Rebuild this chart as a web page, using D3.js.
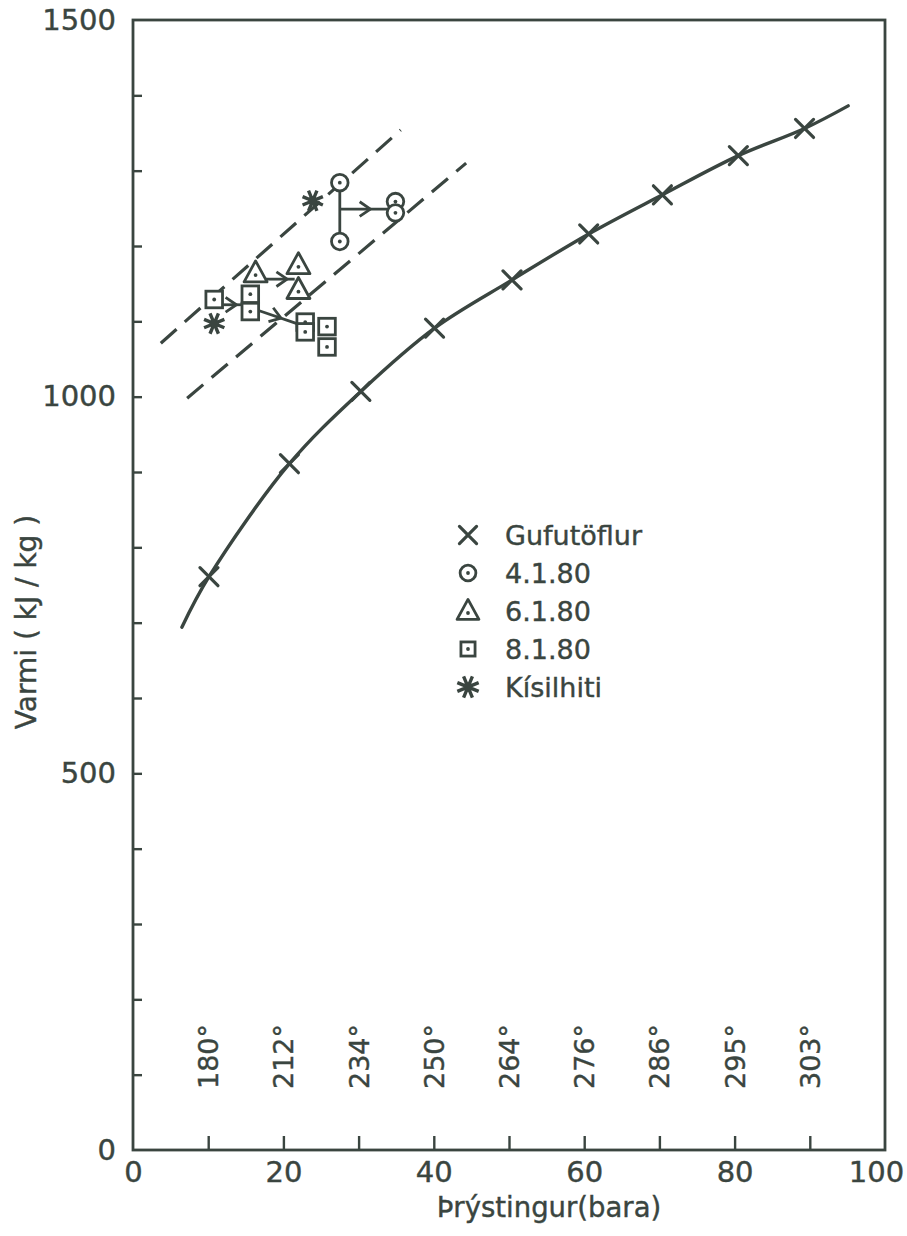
<!DOCTYPE html>
<html>
<head>
<meta charset="utf-8">
<script src="https://cdn.jsdelivr.net/npm/d3@7"></script>
<style>
  body { margin: 0; background: #fff; }
  svg text { font-family: "DejaVu Sans", sans-serif; fill: #3a4540; stroke: #3a4540; stroke-width: 0.4px; }
</style>
</head>
<body>
<svg id="chart" width="907" height="1236"></svg>
<script>
/* DATA */
const xTickLabels = [0, 20, 40, 60, 80, 100];
const yTickLabels = [0, 500, 1000, 1500];
const tempPressure = [10, 20, 30, 40, 50, 60, 70, 80, 90];
const tempLabels = ["180°", "212°", "234°", "250°", "264°", "276°", "286°", "295°", "303°"];

// Gufutöflur (steam tables), crosses on the curve
const steamP = [10.1, 20.8, 30.3, 40.1, 50.4, 60.6, 70.4, 80.5, 89.3];
const steamH = [761, 911, 1007, 1091, 1155, 1216, 1268, 1320, 1356];
const curveStart = [6.5, 694];
const curveEnd = [95.1, 1386];

// measurements
const circleP = [27.5, 27.5, 34.9, 34.9];
const circleH = [1284, 1206, 1259, 1244];
const triP = [16.3, 22.0, 22.0];
const triH = [1164, 1175, 1142];
const squareP = [10.8, 15.6, 15.6, 22.9, 22.9, 25.8, 25.8];
const squareH = [1129, 1136, 1113, 1099, 1086, 1093, 1066];
const starP = [23.9, 10.8];
const starH = [1260, 1097];

// dashed band
const upperDashP = [3.7, 35.6];
const upperDashH = [1071, 1354];
const lowerDashP = [7.2, 44.3];
const lowerDashH = [998, 1310];

// connectors (with arrow) and the plain vertical bar for 4.1.80
const arrowFromP = [27.5, 17.5, 12.0, 16.5];
const arrowFromH = [1249, 1156, 1122, 1115];
const arrowToP = [34.9, 21.5, 14.9, 21.8];
const arrowToH = [1249, 1156, 1122, 1097];
const barP = [27.5, 27.5];
const barH = [1284, 1206];

const legendLabels = ["Gufutöflur", "4.1.80", "6.1.80", "8.1.80", "Kísilhiti"];
const legendTypes = ["cross", "circle", "triangle", "square", "star"];

/* PLOT */
const ink = "#3a4540";
const width = 907, height = 1236;
const marginLeft = 133, marginRight = 22, marginTop = 20, marginBottom = 86;

const svg = d3.select("#chart");
svg.append("rect").attr("width", width).attr("height", height).attr("fill", "#fff");

const x = d3.scaleLinear().domain([0, 100]).range([marginLeft, width - marginRight]);
const y = d3.scaleLinear().domain([0, 1500]).range([height - marginBottom, marginTop]);

// inner ticks
svg.append("g")
  .attr("transform", `translate(${x(0)},0)`)
  .call(d3.axisLeft(y).tickValues(d3.range(100, 1500, 100)).tickSize(-9).tickFormat(""))
  .call(g => g.select(".domain").remove())
  .selectAll("line").attr("stroke", ink).attr("stroke-width", 2.4);

svg.append("g")
  .attr("transform", `translate(0,${y(0)})`)
  .call(d3.axisBottom(x).tickValues(tempPressure).tickSize(-14).tickFormat(""))
  .call(g => g.select(".domain").remove())
  .selectAll("line").attr("stroke", ink).attr("stroke-width", 2.4);

// tick labels
svg.append("g")
  .attr("transform", `translate(${x(0)},0)`)
  .call(d3.axisLeft(y).tickValues(yTickLabels).tickSize(0).tickPadding(17).tickFormat(d3.format("d")))
  .call(g => g.select(".domain").remove())
  .selectAll("text").attr("font-size", 29);

svg.append("g")
  .attr("transform", `translate(0,${y(0)})`)
  .call(d3.axisBottom(x).tickValues(xTickLabels).tickSize(0).tickPadding(11).tickFormat(d3.format("d")))
  .call(g => g.select(".domain").remove())
  .selectAll("text").attr("font-size", 29)
    .attr("dx", (d) => d == 100 ? -9 : 0);

// frame
svg.append("rect")
  .attr("x", x(0)).attr("y", y(1500))
  .attr("width", x(100) - x(0)).attr("height", y(0) - y(1500))
  .attr("fill", "none").attr("stroke", ink).attr("stroke-width", 2.8);

// axis titles
svg.append("text")
  .attr("transform", `translate(36,${622}) rotate(-90)`)
  .attr("text-anchor", "middle")
  .attr("font-size", 28)
  .text("Varmi ( kJ / kg )");

svg.append("text")
  .attr("x", 549).attr("y", 1217)
  .attr("text-anchor", "middle")
  .attr("font-size", 27.5)
  .text("Þrýstingur(bara)");

// saturation temperatures
svg.append("g").selectAll("text")
  .data(tempPressure)
  .enter()
  .append("text")
    .attr("transform", (d) => `translate(${x(d) + 10},${1089}) rotate(-90)`)
    .attr("font-size", 27)
    .text((d, i) => tempLabels[i]);

// dashed band
[[upperDashP, upperDashH], [lowerDashP, lowerDashH]].forEach(([P, H]) => {
  svg.append("path")
    .attr("d", d3.line()(P.map((p, i) => [x(p), y(H[i])])))
    .attr("fill", "none")
    .attr("stroke", ink)
    .attr("stroke-width", 3.2)
    .attr("stroke-dasharray", "21,11");
});

// steam table curve
const curvePts = [curveStart].concat(steamP.map((p, i) => [p, steamH[i]]), [curveEnd]);
svg.append("path")
  .attr("d", d3.line()
    .x((d) => x(d[0]))
    .y((d) => y(d[1]))
    .curve(d3.curveCatmullRom.alpha(0.5))(curvePts))
  .attr("fill", "none")
  .attr("stroke", ink)
  .attr("stroke-width", 3.4)
  .attr("stroke-linecap", "round");

// marker shapes
function drawMarker(g, type, s) {
  // s = scale
  if (type == "cross") {
    const a = 9 * s;
    g.append("path").attr("d", `M${-a},${-a}L${a},${a}M${-a},${a}L${a},${-a}`)
      .attr("stroke", ink).attr("stroke-width", 3.2).attr("fill", "none").attr("stroke-linecap", "round");
  } else if (type == "circle") {
    g.append("circle").attr("r", 8.3 * s).attr("fill", "#fff").attr("stroke", ink).attr("stroke-width", 2.8);
    g.append("circle").attr("r", 1.9).attr("fill", ink);
  } else if (type == "triangle") {
    const w = 11.5 * s, h = 21 * s;
    g.append("path").attr("d", `M0,${-h * 0.58}L${w},${h * 0.42}L${-w},${h * 0.42}Z`)
      .attr("fill", "#fff").attr("stroke", ink).attr("stroke-width", 2.8).attr("stroke-linejoin", "round");
    g.append("circle").attr("cy", 2).attr("r", 1.9).attr("fill", ink);
  } else if (type == "square") {
    const a = 8.3 * s;
    g.append("rect").attr("x", -a).attr("y", -a).attr("width", 2 * a).attr("height", 2 * a)
      .attr("fill", "#fff").attr("stroke", ink).attr("stroke-width", 2.8);
    g.append("circle").attr("r", 1.9).attr("fill", ink);
  } else if (type == "star") {
    const r = 11 * s;
    let d = "";
    for (let k = 0; k < 4; k++) {
      const t = Math.PI / 4 * k + Math.PI / 8;
      d += `M${-r * Math.cos(t)},${-r * Math.sin(t)}L${r * Math.cos(t)},${r * Math.sin(t)}`;
    }
    g.append("path").attr("d", d).attr("stroke", ink).attr("stroke-width", 3.4).attr("fill", "none");
    g.append("circle").attr("r", 4.5).attr("fill", ink);
  }
}

// connectors
const conn = svg.append("g");
conn.append("path")
  .attr("d", d3.line()(barP.map((p, i) => [x(p), y(barH[i])])))
  .attr("stroke", ink).attr("stroke-width", 2.8);

const arrowT = [0.55, 0.75, 0.6, 0.6];
arrowFromP.forEach((p, i) => {
  const x1 = x(p), y1 = y(arrowFromH[i]), x2 = x(arrowToP[i]), y2 = y(arrowToH[i]);
  conn.append("path").attr("d", `M${x1},${y1}L${x2},${y2}`)
    .attr("stroke", ink).attr("stroke-width", 2.8);
  const tx = x1 + (x2 - x1) * arrowT[i], ty = y1 + (y2 - y1) * arrowT[i];
  const ang = Math.atan2(y2 - y1, x2 - x1);
  const L = 13, spread = 0.6;
  conn.append("path")
    .attr("d", `M${tx - L * Math.cos(ang - spread)},${ty - L * Math.sin(ang - spread)}L${tx},${ty}L${tx - L * Math.cos(ang + spread)},${ty - L * Math.sin(ang + spread)}`)
    .attr("fill", "none").attr("stroke", ink).attr("stroke-width", 2.8).attr("stroke-linejoin", "round");
});

// markers
const marks = svg.append("g");
function plotSeries(P, H, type, s) {
  marks.selectAll(null)
    .data(P.map((p, i) => [p, H[i]]))
    .enter()
    .append("g")
      .attr("transform", (d) => `translate(${x(d[0])},${y(d[1])})`)
      .each(function () { drawMarker(d3.select(this), type, s); });
}
plotSeries(steamP, steamH, "cross", 1);
plotSeries(circleP, circleH, "circle", 1);
plotSeries(triP, triH, "triangle", 1);
plotSeries(squareP, squareH, "square", 1);
plotSeries(starP, starH, "star", 1);

// legend
const legend_dy = 38;
const legend = svg.append("g").attr("transform", "translate(468,535)");
const legend_element = legend.selectAll("g")
  .data(legendLabels)
  .enter()
  .append("g")
    .attr("transform", (d, i) => `translate(0,${i * legend_dy})`);

legend_element.each(function (d, i) {
  const t = legendTypes[i];
  drawMarker(d3.select(this), t, t == "square" ? 0.85 : (t == "star" ? 1.05 : 0.95));
});

legend_element.append("text")
  .attr("x", 37)
  .attr("y", 10)
  .attr("font-size", 27)
  .text((d) => d);
</script>
</body>
</html>
